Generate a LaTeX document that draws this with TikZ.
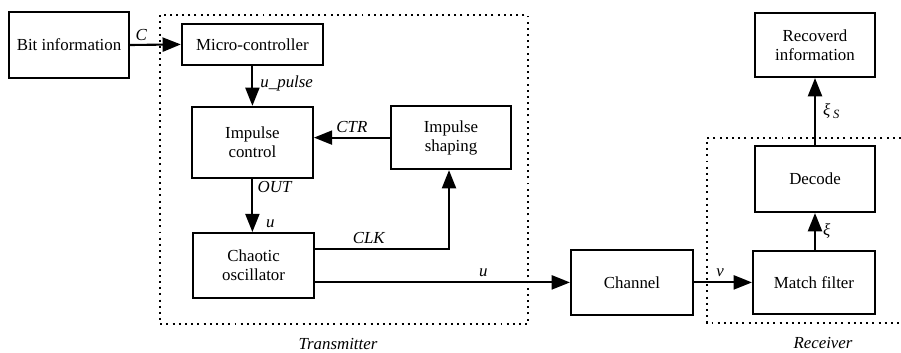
\documentclass[tikz,border=0pt]{standalone}
\usepackage{fontspec}
\setmainfont{Liberation Serif}
\usetikzlibrary{arrows.meta}

\tikzset{
 blk/.style={draw,line width=1.5pt,align=center,inner sep=1pt,font=\fontsize{12}{13.5}\selectfont},
 sig/.style={line width=1.5pt,-{Triangle[length=13pt,width=10pt]}},
 lbl/.style={font=\fontsize{12}{13.5}\selectfont\itshape,inner sep=1pt},
 frame/.style={line width=1.5pt,dash pattern=on 1.4pt off 3pt}
}

\begin{document}
\begin{tikzpicture}
 \useasboundingbox (0,0) rectangle (22.525,-8.8);
 % dotted frames
 \draw[frame] (4.0,-0.375) rectangle (13.2,-8.1);
 \draw[frame] (22.525,-3.45) -- (17.675,-3.45) -- (17.675,-8.075) -- (22.525,-8.075);
 \node[lbl] (tx) at (8.45,-8.6) {Transmitter};
 \node[lbl] (rx) at (20.575,-8.57) {Receiver};
 % blocks
 \node[blk,minimum width=3cm,minimum height=1.65cm] (bit) at (1.725,-1.125) {Bit information};
 \node[blk,minimum width=3.525cm,minimum height=1.025cm] (mcu) at (6.31,-1.11) {Micro-controller};
 \node[blk,minimum width=3.025cm,minimum height=1.775cm] (ctrl) at (6.31,-3.56) {Impulse\\control};
 \node[blk,minimum width=3cm,minimum height=1.575cm] (shape) at (11.275,-3.44) {Impulse\\shaping};
 \node[blk,minimum width=3.025cm,minimum height=1.625cm] (chaos) at (6.34,-6.64) {Chaotic\\oscillator};
 \node[blk,minimum width=3.05cm,minimum height=1.625cm] (chan) at (15.8,-7.06) {Channel};
 \node[blk,minimum width=3.05cm,minimum height=1.575cm] (match) at (20.35,-7.06) {Match filter};
 \node[blk,minimum width=3cm,minimum height=1.65cm] (dec) at (20.375,-4.475) {Decode};
 \node[blk,minimum width=3cm,minimum height=1.6cm] (rec) at (20.375,-1.125) {Recoverd\\information};
 % signals
 \draw[sig] (bit.east) -- (mcu.west) node[lbl,pos=0.22,above=1pt] (lc) {C};
 \draw[sig] (mcu.south) -- (ctrl.north) node[lbl,pos=0.45,right=4pt] (lp) {u\_pulse};
 \draw[sig] (shape.west) -- (shape.west -| ctrl.east) node[lbl,midway,above=2pt] (lt) {CTR};
 \draw[sig] (ctrl.south) -- (ctrl.south |- chaos.north) node[lbl,pos=0.15,right=2pt] (lo) {OUT} node[lbl,pos=0.85,right=8pt] (lu) {u};
 \coordinate (k) at (11.225,-6.225);
 \draw[sig] (chaos.east |- k) -- (k) node[lbl,pos=0.4,above=2pt] (lk) {CLK} -- (k |- shape.south);
 \draw[sig] (chaos.east |- chan.west) -- (chan.west) node[lbl,pos=0.66,above=2pt] (lw) {u};
 \draw[sig] (chan.east) -- (match.west) node[lbl,pos=0.45,above=2pt] (lv) {v};
 \draw[sig] (match.north -| dec.south) -- (dec.south) node[lbl,midway,right=4pt] (lx) {ξ};
 \draw[sig] (dec.north) -- (rec.south) node[lbl,midway,right=4pt] (ls) {ξ\,\raisebox{-1.5pt}{\small S}};
\end{tikzpicture}
\end{document}
